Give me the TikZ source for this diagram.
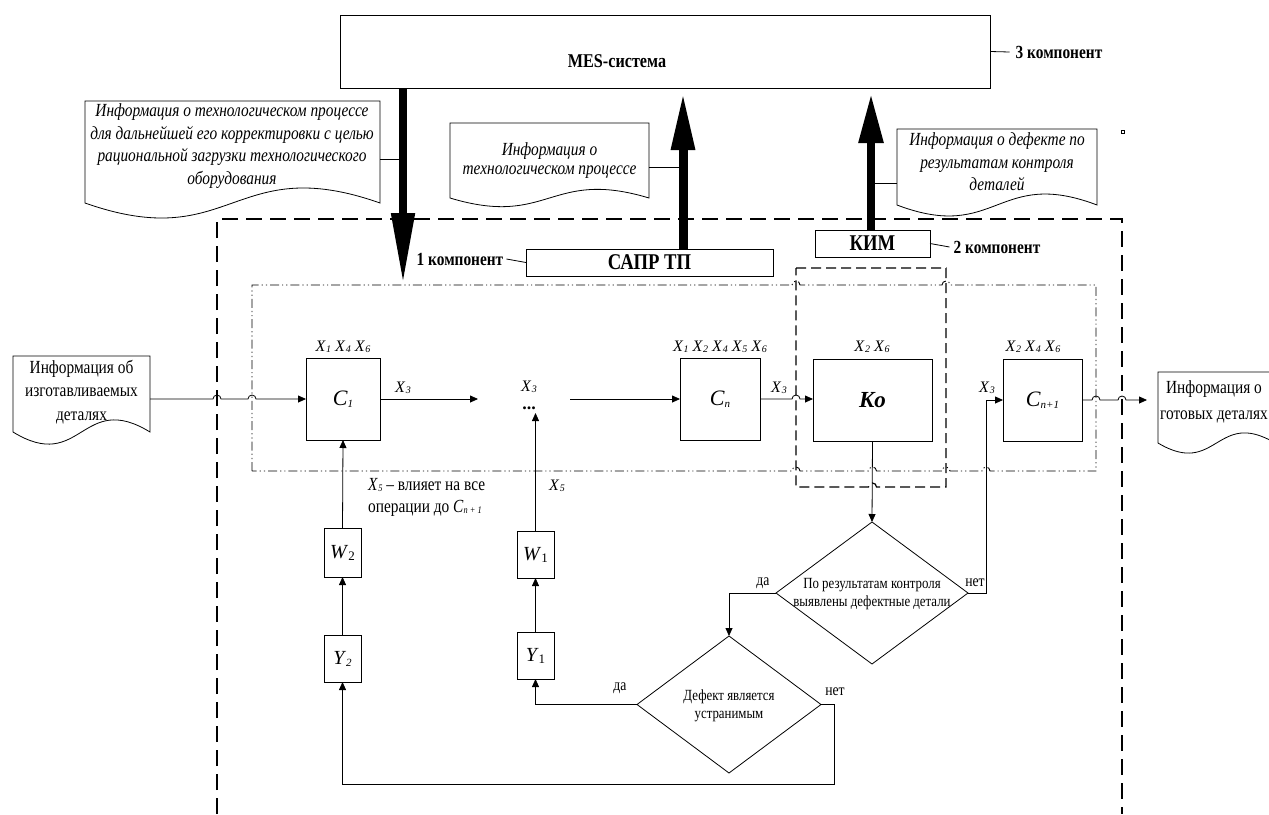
\documentclass[tikz,border=0pt]{standalone}
\usepackage{fontspec}
\setmainfont{Liberation Serif}
\newfontfamily\cf[FakeStretch=0.83]{Liberation Serif}
\usetikzlibrary{arrows.meta,calc,shapes.geometric}
\newcommand\xv[1]{\textit{X}\kern0.3pt\raisebox{-1pt}{\fontsize{10}{10}\selectfont\textit{#1}}}
\newcommand\docshape[5]{\draw[line width=0.8pt] (#1,#4) -- (#1,#2) -- (#3,#2) -- (#3,#4) .. controls ({(#1+#3)/2},{#4-#5}) and ({(#1+#3)/2},{#4+#5}) .. (#1,#4) -- cycle;}
\begin{document}
\begin{tikzpicture}[x=1pt,y=-1pt,
  box/.style={draw,line width=0.9pt,inner sep=0pt,outer sep=0pt},
  ln/.style={line width=0.8pt},
  arr/.style={line width=0.8pt,-{Triangle[length=8pt,width=7pt]}},
  dia/.style={diamond,draw,line width=0.8pt,inner sep=0pt,outer sep=0pt},
  itx/.style={font=\cf\fontsize{18.5}{22.7}\selectfont\itshape,align=center,inner sep=0pt},
  rtx/.style={font=\cf\fontsize{18.5}{23.5}\selectfont,align=center,inner sep=0pt},
  xl/.style={font=\fontsize{16}{18}\selectfont,inner sep=0pt},
  dtx/.style={font=\cf\fontsize{15.5}{18.5}\selectfont,align=center,inner sep=0pt},
  yn/.style={font=\cf\fontsize{16.5}{18}\selectfont,inner sep=0pt},
  comp/.style={font=\cf\fontsize{18.5}{20}\selectfont\bfseries,inner sep=0pt}]
\useasboundingbox (0,0) rectangle (1269,814);

% outer dashed frame (component 1 area)
\draw[line width=1.8pt,dash pattern=on 16pt off 8pt] (217,814) -- (217,219) -- (1122,219) -- (1122,814);
% dash-dot-dot frame
\draw[line width=0.9pt,dash pattern=on 9pt off 3pt on 1.2pt off 3pt on 1.2pt off 3pt]
  (252,471) -- (252,285) -- (792,285) arc[start angle=180,end angle=360,radius=4]
  -- (942,285) arc[start angle=180,end angle=360,radius=4] -- (1096,285) -- (1096,471)
  -- (990,471) arc[start angle=360,end angle=180,radius=4]
  -- (950,471) arc[start angle=360,end angle=180,radius=4]
  -- (876.5,471) arc[start angle=360,end angle=180,radius=4]
  -- (800,471) arc[start angle=360,end angle=180,radius=4] -- cycle;
% Ko dashed frame
\draw[line width=1.2pt,dash pattern=on 10pt off 5pt]
  (796,268) -- (946,268) -- (946,487) -- (876.5,487) arc[start angle=360,end angle=180,radius=4] -- (796,487) -- cycle;

% top boxes
\node[box,minimum width=650,minimum height=73] (mes) at (665,51.5) {};
\node[font=\cf\fontsize{19.5}{21}\selectfont\bfseries,inner sep=0pt] (mesl) at (617,61) {MES-система};
\node[box,minimum width=247,minimum height=27,font=\cf\fontsize{22.5}{24}\selectfont\bfseries] (sapr) at (649.5,262.5) {САПР ТП};
\node[box,minimum width=115,minimum height=27,font=\cf\fontsize{22.5}{24}\selectfont\bfseries] (kim) at (872.5,243.5) {КИМ};
\node[comp] (k1) at (460,259) {1 компонент};
\node[comp] (k2) at (997,247) {2 компонент};
\node[comp] (k3) at (1059,52) {3 компонент};
\draw[ln] (k1.east) ++(3,0) -- (sapr.west);
\draw[ln] (kim.east) -- ($(k2.west)+(-4,0)$);
\draw[ln] (mes.east) -- ($(k3.west)+(-6,0)$);

% big arrows
\coordinate (aTop) at (403,88);
\coordinate (aBot) at (403,284);
\draw[line width=8pt,-{Triangle[length=71pt,width=22pt]}] (aTop) -- (aBot);
\draw[line width=9pt,-{Triangle[length=58pt,width=22pt]},shorten >=4pt] (sapr.north -| 683,0) -- (mes.south -| 683,0);
\draw[line width=8.5pt,-{Triangle[length=50pt,width=23pt]},shorten >=5pt] (kim.north -| 871,0) -- (mes.south -| 871,0);

% information documents
\docshape{85}{101}{380}{203}{52}
\node[itx] (docA) at (232,146) {Информация о технологическом процессе\\для дальнейшей его корректировки с целью\\рациональной загрузки технологического\\оборудования};
\docshape{450}{123}{649}{198}{30}
\node[itx,font=\cf\fontsize{18.5}{19}\selectfont\itshape] (docB) at (549.5,161) {Информация о\\технологическом процессе};
\docshape{897}{129}{1097}{205}{38}
\node[itx,font=\cf\fontsize{18.5}{22.5}\selectfont\itshape] (docC) at (997,162) {Информация о дефекте по\\результатам контроля\\деталей};
\draw[ln] (380,159) -- (aTop |- 0,159);
\draw[ln] (649,167) -- (683,167);
\draw[ln] (871,183) -- (897,183);
\draw[line width=0.6pt] (1121.5,130.5) rectangle (1124.5,133.5);

\docshape{13}{356}{150}{432}{42}
\node[rtx] (inp) at (81.5,392) {Информация об\\изготавливаемых\\деталях};
\coordinate (inpR) at (150,399);
\docshape{1158}{372}{1275}{443}{35}
\node[rtx,font=\cf\fontsize{18.5}{26}\selectfont] (outp) at (1214,402) {Информация о\\готовых деталях};

% process blocks
\node[box,minimum width=74,minimum height=82] (c1) at (343,399) {\fontsize{22}{22}\selectfont\textit{C}\raisebox{-2pt}{\fontsize{11}{11}\selectfont\textit{1}}};
\node[box,minimum width=80,minimum height=82] (cn) at (720,399) {\fontsize{22}{22}\selectfont\textit{C}\raisebox{-2pt}{\fontsize{11}{11}\selectfont\textit{n}}};
\node[box,minimum width=119,minimum height=82] (ko) at (872.5,400) {\fontsize{23}{23}\selectfont\bfseries\itshape Ko};
\node[box,minimum width=79,minimum height=82] (cn1) at (1042.5,400) {\fontsize{22}{22}\selectfont\textit{C}\raisebox{-2pt}{\fontsize{11}{11}\selectfont\textit{n+1}}};
\node[font=\fontsize{18}{18}\selectfont\bfseries,inner sep=0pt,anchor=base] (dots) at (529,409) {...};
\coordinate (dotsin) at (535.5,413);

\node[box,minimum width=37,minimum height=49] (w2) at (342.5,552.5) {\fontsize{20}{20}\selectfont\textit{W}\raisebox{-2pt}{\fontsize{13}{13}\selectfont 2}};
\node[box,minimum width=37,minimum height=47] (y2) at (342.5,658.5) {\fontsize{20}{20}\selectfont\textit{Y}\raisebox{-2pt}{\fontsize{11}{11}\selectfont\textit{2}}};
\node[box,minimum width=37,minimum height=47] (w1) at (535.5,554.5) {\fontsize{20}{20}\selectfont\textit{W}\raisebox{-2pt}{\fontsize{13}{13}\selectfont 1}};
\node[box,minimum width=37,minimum height=47] (y1) at (535.5,655.5) {\fontsize{20}{20}\selectfont\textit{Y}\raisebox{-2pt}{\fontsize{13}{13}\selectfont 1}};

\node[dia,minimum width=192,minimum height=142] (d1) at (872,593) {};
\node[dtx] (d1t) at (872,594) {По результатам контроля\\выявлены дефектные детали};
\node[dia,minimum width=184,minimum height=137] (d2) at (729,704.5) {};
\node[dtx] (d2t) at (729,706) {Дефект является\\устранимым};

% X labels
\node[xl] (l1) at (343,347) {\xv1\ \xv4 \xv6};
\node[xl] (l2) at (720,347) {\xv1\ \xv2 \xv4 \xv5 \xv6};
\node[xl] (l3) at (872,347) {\xv2\ \xv6};
\node[xl] (l4) at (1033,347) {\xv2 \xv4\ \xv6};
\node[xl] at (403,388) {\xv3};
\node[xl] at (529,387) {\xv3};
\node[xl] at (779,388) {\xv3};
\node[xl] at (987,388) {\xv3};
\node[xl] at (557,486) {\xv5};
\node[font=\cf\fontsize{18.5}{22}\selectfont,align=left,inner sep=0pt,anchor=west] (x5t) at (368,497) {\xv5 – влияет на все\\операции до \textit{C}\raisebox{-1pt}{\fontsize{10}{10}\selectfont\textit{n + 1}}};

% flow connectors
\draw[arr] (inpR) -- (213,399) arc[start angle=180,end angle=360,radius=4] -- (248,399) arc[start angle=180,end angle=360,radius=4] -- (c1.west);
\draw[arr] (c1.east) -- (478,399);
\draw[arr] (570,399) -- (cn.west);
\draw[arr] (cn.east) -- (792,399) arc[start angle=180,end angle=360,radius=4] -- (ko.west |- 0,399);
\draw[arr] (ko.south) -- (d1.north);
\draw[arr] (d1.east) -- ++(18,0) |- (cn1.west);
\draw[arr] (cn1.east) -- (1092,400) arc[start angle=180,end angle=360,radius=4] -- (1118,400) arc[start angle=180,end angle=360,radius=4] -- (1147,400);
\draw[arr] (d1.west) -| (d2.north);
\draw[arr] (d2.west) -| (y1.south);
\draw[arr] (y1.north) -- (w1.south);
\draw[arr] (w1.north) -- (dotsin);
\draw[arr] (d2.east) -- ++(13,0) |- ($(y2.south)+(0,102)$) -- (y2.south);
\draw[arr] (y2.north) -- (w2.south);
\draw[arr] (w2.north) -- (c1.south);

% yes / no labels
\node[yn] at (763,583) {да};
\node[yn] at (975,583) {нет};
\node[yn] at (620,688) {да};
\node[yn] at (835,692) {нет};
\end{tikzpicture}
\end{document}
